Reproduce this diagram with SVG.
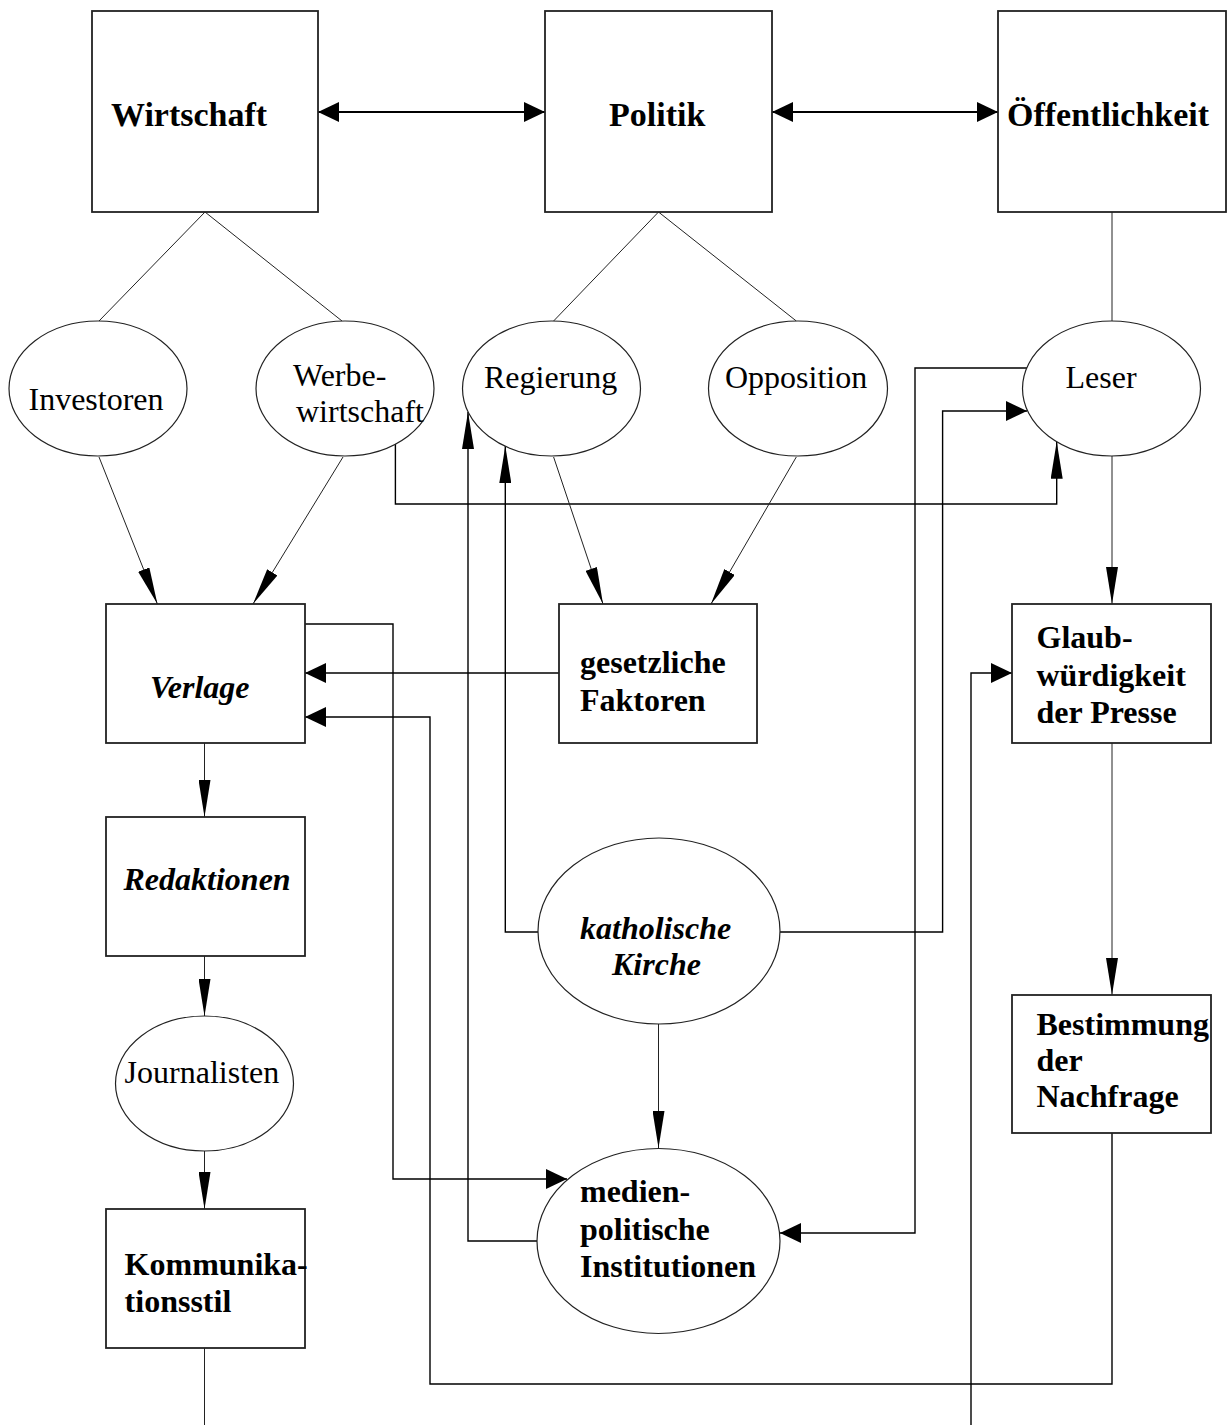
<svg xmlns="http://www.w3.org/2000/svg" width="1232" height="1425" viewBox="0 0 1232 1425">
<style>
  .box { fill: #fff; stroke: #222; stroke-width: 1.8; }
  .ell { fill: #fff; stroke: #222; stroke-width: 1.2; }
  .c { fill: none; stroke: #000; stroke-width: 1.4; }
  .d { fill: none; stroke: #222; stroke-width: 1; }
  .t { font-family: "Liberation Serif", "Times New Roman", serif; font-size: 32px; fill: #000; }
  .b { font-weight: bold; }
  .i { font-style: italic; }
  .big { font-size: 34px; }
</style>
<defs>
  <marker id="ah" markerUnits="userSpaceOnUse" markerWidth="21" markerHeight="20" viewBox="0 0 21 20" refX="21" refY="10" orient="auto">
    <path d="M0,0 L21,10 L0,20 z" fill="#000"/>
  </marker>
  <marker id="ahs" markerUnits="userSpaceOnUse" markerWidth="21" markerHeight="20" viewBox="0 0 21 20" refX="21" refY="10" orient="auto-start-reverse">
    <path d="M0,0 L21,10 L0,20 z" fill="#000"/>
  </marker>
  <marker id="av" markerUnits="userSpaceOnUse" markerWidth="37" markerHeight="12" viewBox="0 0 37 12" refX="37" refY="6" orient="auto">
    <path d="M0,0 L37,6 L0,12 z" fill="#000"/>
  </marker>
</defs>

<g id="connectors">
  <line class="c" x1="318" y1="112" x2="545" y2="112" marker-start="url(#ahs)" marker-end="url(#ahs)" style="stroke-width:2"/>
  <line class="c" x1="772" y1="112" x2="998" y2="112" marker-start="url(#ahs)" marker-end="url(#ahs)" style="stroke-width:2"/>
  <line class="d" x1="205" y1="212" x2="99" y2="321"/>
  <line class="d" x1="205" y1="212" x2="342" y2="321"/>
  <line class="d" x1="658.5" y1="212" x2="553.6" y2="321"/>
  <line class="d" x1="658.5" y1="212" x2="796.3" y2="321"/>
  <line class="d" x1="1112" y1="212" x2="1112" y2="321"/>
  <line class="d" x1="99" y1="457" x2="157.4" y2="604" marker-end="url(#av)"/>
  <line class="d" x1="343" y1="457" x2="253" y2="604" marker-end="url(#av)"/>
  <polyline class="c" points="395.4,443.6 395.4,504 1056.7,504 1056.7,441.7" marker-end="url(#av)"/>
  <line class="d" x1="553.6" y1="457" x2="603" y2="604" marker-end="url(#av)"/>
  <line class="d" x1="796.3" y1="457" x2="711" y2="604" marker-end="url(#av)"/>
  <line class="d" x1="1112" y1="456" x2="1112" y2="604" marker-end="url(#av)"/>
  <line class="c" x1="559" y1="673" x2="305" y2="673" marker-end="url(#ah)"/>
  <polyline class="c" points="305,624 393,624 393,1179 567,1179" marker-end="url(#ah)"/>
  <polyline class="c" points="1112,1133 1112,1384 430,1384 430,717 305,717" marker-end="url(#ah)"/>
  <polyline class="c" points="537,1241 468,1241 468,412" marker-end="url(#av)"/>
  <polyline class="c" points="538,932 505.3,932 505.3,446" marker-end="url(#av)"/>
  <polyline class="c" points="780,932 942.6,932 942.6,411 1027,411" marker-end="url(#ah)"/>
  <polyline class="c" points="1027,368 915,368 915,1233 780,1233" marker-end="url(#ah)"/>
  <line class="d" x1="658.5" y1="1024" x2="658.5" y2="1148" marker-end="url(#av)"/>
  <line class="d" x1="1112" y1="743" x2="1112" y2="995" marker-end="url(#av)"/>
  <polyline class="c" points="971,1425 971,673 1012,673" marker-end="url(#ah)"/>
  <line class="d" x1="204.5" y1="743" x2="204.5" y2="817" marker-end="url(#av)"/>
  <line class="d" x1="204.5" y1="956" x2="204.5" y2="1016" marker-end="url(#av)"/>
  <line class="d" x1="204.5" y1="1151" x2="204.5" y2="1209" marker-end="url(#av)"/>
  <line class="d" x1="204.5" y1="1348" x2="204.5" y2="1425"/>
</g>

<g id="wirtschaft">
  <rect class="box" x="92" y="11" width="226" height="201"/>
  <text class="t b big" x="111" y="126">Wirtschaft</text>
</g>
<g id="politik">
  <rect class="box" x="545" y="11" width="227" height="201"/>
  <text class="t b big" x="609" y="126">Politik</text>
</g>
<g id="oeffentlichkeit">
  <rect class="box" x="998" y="11" width="228" height="201"/>
  <text class="t b big" x="1007" y="126">Öffentlichkeit</text>
</g>
<g id="investoren">
  <ellipse class="ell" cx="98" cy="388.5" rx="89" ry="67.5"/>
  <text class="t" x="28.5" y="410">Investoren</text>
</g>
<g id="werbewirtschaft">
  <ellipse class="ell" cx="345" cy="388.5" rx="89" ry="67.5"/>
  <text class="t" x="293" y="386">Werbe-</text>
  <text class="t" x="296" y="422">wirtschaft</text>
</g>
<g id="regierung">
  <ellipse class="ell" cx="551.5" cy="388.5" rx="89" ry="67.5"/>
  <text class="t" x="484" y="388">Regierung</text>
</g>
<g id="opposition">
  <ellipse class="ell" cx="798" cy="388.5" rx="89.5" ry="67.5"/>
  <text class="t" x="725" y="388">Opposition</text>
</g>
<g id="leser">
  <ellipse class="ell" cx="1111.5" cy="388.5" rx="89" ry="67.5"/>
  <text class="t" x="1065.5" y="388">Leser</text>
</g>
<g id="verlage">
  <rect class="box" x="106" y="604" width="199" height="139"/>
  <text class="t b i" x="150" y="698">Verlage</text>
</g>
<g id="gesetzliche-faktoren">
  <rect class="box" x="559" y="604" width="198" height="139"/>
  <text class="t b" x="580" y="673">gesetzliche</text>
  <text class="t b" x="580" y="711">Faktoren</text>
</g>
<g id="glaubwuerdigkeit">
  <rect class="box" x="1012" y="604" width="199" height="139"/>
  <text class="t b" x="1036.5" y="648">Glaub-</text>
  <text class="t b" x="1036.5" y="686">würdigkeit</text>
  <text class="t b" x="1036.5" y="723">der Presse</text>
</g>
<g id="redaktionen">
  <rect class="box" x="106" y="817" width="199" height="139"/>
  <text class="t b i" x="123.5" y="890">Redaktionen</text>
</g>
<g id="katholische-kirche">
  <ellipse class="ell" cx="659" cy="931" rx="121" ry="93"/>
  <text class="t b i" x="580" y="939">katholische</text>
  <text class="t b i" x="612" y="975">Kirche</text>
</g>
<g id="bestimmung">
  <rect class="box" x="1012" y="995" width="199" height="138"/>
  <text class="t b" x="1036.5" y="1035">Bestimmung</text>
  <text class="t b" x="1036.5" y="1071">der</text>
  <text class="t b" x="1036.5" y="1107">Nachfrage</text>
</g>
<g id="journalisten">
  <ellipse class="ell" cx="204.5" cy="1083.5" rx="89" ry="67.5"/>
  <text class="t" x="124.6" y="1083">Journalisten</text>
</g>
<g id="medienpolitische-institutionen">
  <ellipse class="ell" cx="658.5" cy="1241" rx="121.5" ry="92.5"/>
  <text class="t b" x="580" y="1202">medien-</text>
  <text class="t b" x="580" y="1240">politische</text>
  <text class="t b" x="580" y="1277">Institutionen</text>
</g>
<g id="kommunikationsstil">
  <rect class="box" x="106" y="1209" width="199" height="139"/>
  <text class="t b" x="124.6" y="1275">Kommunika-</text>
  <text class="t b" x="124.6" y="1312">tionsstil</text>
</g>
</svg>
